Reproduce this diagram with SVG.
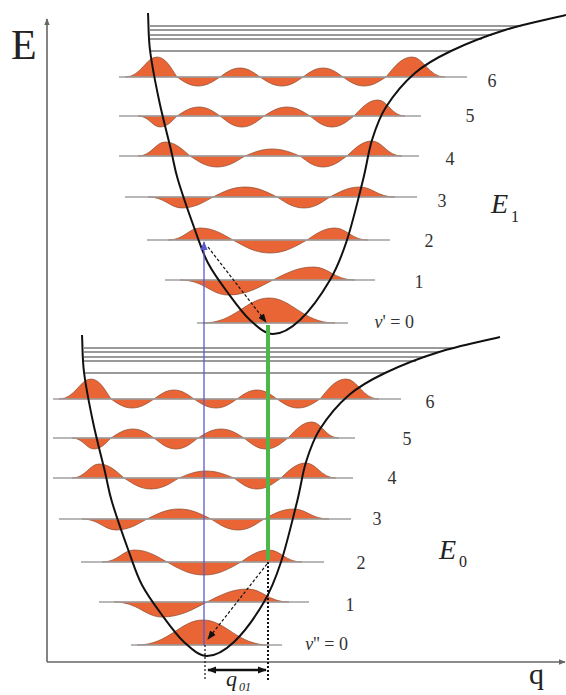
<svg xmlns="http://www.w3.org/2000/svg" width="566" height="695" viewBox="0 0 566 695">
<style>
.wave{fill:#E96535;stroke:#8a4a30;stroke-width:0.7;stroke-linejoin:round}
.base{stroke:#a0a0a0;stroke-width:1.3;fill:none}
.diss{stroke:#9a9a9a;stroke-width:1.8;fill:none}
.pot{stroke:#111;stroke-width:2;fill:none}
.axis{stroke:#666;stroke-width:1.6;fill:none}
.lbl{font-family:"Liberation Serif","Times New Roman",serif;font-size:18px;fill:#333;text-anchor:middle}
.big{font-family:"Liberation Serif","Times New Roman",serif;fill:#222}
</style>
<defs>
<marker id="ah" viewBox="0 0 10 10" refX="9" refY="5" markerWidth="9" markerHeight="9" markerUnits="userSpaceOnUse" orient="auto-start-reverse"><path d="M0,1 L10,5 L0,9 Z" fill="#111"/></marker>
<marker id="ahb" viewBox="0 0 10 10" refX="9" refY="5" markerWidth="9" markerHeight="9" markerUnits="userSpaceOnUse" orient="auto"><path d="M0,1 L10,5 L0,9 Z" fill="#5a5ad0"/></marker>
<marker id="aha" viewBox="0 0 10 10" refX="9" refY="5" markerWidth="7" markerHeight="7" markerUnits="userSpaceOnUse" orient="auto"><path d="M0,1 L10,5 L0,9 Z" fill="#666"/></marker>
<g id="well">
<g class="diss">
<line x1="150" y1="26" x2="521" y2="26"/>
<line x1="150" y1="30" x2="505" y2="30"/>
<line x1="150" y1="35" x2="492" y2="35"/>
<line x1="150" y1="39" x2="482" y2="39"/>
<line x1="150" y1="51" x2="451" y2="51"/>
</g>
<path class="wave" d="M125,77 C141,77 145.8,57 157,57 C165,57 170.4,66.6 177,77 C183.9,81.7 189.6,86 198,86 C206.8,86 212.7,81.7 220,77 C226.6,72.3 232,68 240,68 C248,68 253.4,72.3 260,77 C267.3,81.7 273.2,86 282,86 C290.4,86 296.1,81.7 303,77 C309.6,72.3 315,68 323,68 C331,68 336.4,72.3 343,77 C349.9,81.7 355.6,86 364,86 C372.8,86 378.7,81.7 386,77 C394.6,66.6 401.6,57 412,57 C423.6,57 428.5,77 445,77 Z"/>
<path class="wave" d="M138,116 C149,116 152.3,127 160,127 C166.8,127 171.4,121.7 177,116 C184.3,111.3 190.2,107 199,107 C207.4,107 213.1,111.3 220,116 C227.3,121.7 233.2,127 242,127 C250.8,127 256.7,121.7 264,116 C271.6,111.3 277.8,107 287,107 C296.2,107 302.4,111.3 310,116 C317.3,121.7 323.2,127 332,127 C340.8,127 346.7,121.7 354,116 C361.9,107.7 368.4,100 378,100 C387.5,100 391.5,116 405,116 Z"/>
<path class="wave" d="M138,156 C151.5,156 155.6,142 165,142 C175,142 181.8,148.7 190,156 C198.9,161.7 206.2,167 217,167 C228.2,167 235.8,161.7 245,156 C253.9,152.4 261.2,149 272,149 C283.2,149 290.8,152.4 300,156 C307.6,161.7 313.8,167 323,167 C332.6,167 339.1,161.7 347,156 C355.3,148.2 362,141 372,141 C382.5,141 387,156 402,156 Z"/>
<path class="wave" d="M148,197 C165,197 170.1,208 182,208 C194.4,208 202.8,202.7 213,197 C223.6,191.8 232.2,187 245,187 C257.8,187 266.4,191.8 277,197 C285.9,202.7 293.2,208 304,208 C314.4,208 321.4,202.7 330,197 C339.9,191.8 348,187 360,187 C372.3,187 377.5,197 395,197 Z"/>
<path class="wave" d="M168,240 C184,240 188.8,228 200,228 C213.2,228 222.1,233.8 233,240 C245.2,246.8 255.2,253 270,253 C284.8,253 294.8,246.8 307,240 C316.2,233.8 323.8,228 335,228 C346.6,228 351.5,240 368,240 Z"/>
<path class="wave" d="M180,280 C204,280 211.2,295 228,295 C246,295 258.2,287.8 273,280 C286.5,273.2 297.6,267 314,267 C328.4,267 334.5,280 355,280 Z"/>
<path class="wave" d="M203,323 C235,323 246,298 269,298 C292,298 303,323 335,323 Z"/>
<g class="base">
<line x1="119" y1="77" x2="467" y2="77"/>
<line x1="119" y1="116" x2="421" y2="116"/>
<line x1="119" y1="156" x2="419" y2="156"/>
<line x1="125" y1="197" x2="417" y2="197"/>
<line x1="147" y1="240" x2="390" y2="240"/>
<line x1="165" y1="280" x2="375" y2="280"/>
<line x1="197" y1="323" x2="348" y2="323"/>
</g>
<path class="pot" d="M148,13 C148.7,25.3 148.2,35.5 150,50 C151.8,64.5 155.5,83.3 159,100 C162.5,116.7 167.8,136.7 171,150 C174.2,163.3 174,166.7 178,180 C182,193.3 190,216.2 195,230 C200,243.8 202.5,252.5 208,263 C213.5,273.5 221,283.5 228,293 C235,302.5 242.5,313.2 250,320 C257.5,326.8 264.7,334 273,334 C281.3,334 290.5,329 300,320 C309.5,311 322.2,293.3 330,280 C337.8,266.7 341.5,256.7 347,240 C352.5,223.3 358.8,196.7 363,180 C367.2,163.3 368.2,152.2 372,140 C375.8,127.8 378.8,118.2 386,107 C393.2,95.8 404.2,82.3 415,73 C425.8,63.7 436,58.2 451,51 C466,43.8 485.8,36 505,30 C524.2,24 545.7,20 566,15"/>
</g>
</defs>
<g id="axes">
<line class="axis" x1="47" y1="662" x2="47" y2="19" marker-end="url(#aha)"/>
<line class="axis" x1="47" y1="662" x2="565" y2="662" marker-end="url(#aha)"/>
<text class="big" x="11" y="59" font-size="42">E</text>
<text class="big" x="529" y="684" font-size="30">q</text>
</g>
<g id="state-E1">
<use href="#well"/>
<text class="lbl" x="492" y="87">6</text>
<text class="lbl" x="470" y="122">5</text>
<text class="lbl" x="450" y="165">4</text>
<text class="lbl" x="442" y="207">3</text>
<text class="lbl" x="429" y="247">2</text>
<text class="lbl" x="419" y="288">1</text>
<text class="lbl" x="414" y="328" style="text-anchor:end"><tspan font-style="italic">v</tspan>' = 0</text>
<text class="big" x="491" y="213" font-size="28" font-style="italic">E</text>
<text class="big" x="511" y="222" font-size="16">1</text>
</g>
<g id="state-E0">
<use href="#well" transform="translate(-66,322)"/>
<text class="lbl" x="430" y="408">6</text>
<text class="lbl" x="407" y="445">5</text>
<text class="lbl" x="392" y="484">4</text>
<text class="lbl" x="377" y="525">3</text>
<text class="lbl" x="361" y="569">2</text>
<text class="lbl" x="350" y="611">1</text>
<text class="lbl" x="348" y="650" style="text-anchor:end"><tspan font-style="italic">v</tspan>'' = 0</text>
<text class="big" x="439" y="559" font-size="28" font-style="italic">E</text>
<text class="big" x="459" y="567" font-size="16">0</text>
</g>
<g id="connectors">
<line x1="204" y1="645" x2="204" y2="242" stroke="#5a5ad0" stroke-width="1.3" marker-end="url(#ahb)"/>
<line x1="268" y1="325" x2="268" y2="560" stroke="#4db848" stroke-width="4"/>
<line x1="208" y1="247" x2="266" y2="322" stroke="#111" stroke-width="1.2" stroke-dasharray="3,2" marker-end="url(#ah)"/>
<line x1="267" y1="564" x2="208" y2="639" stroke="#111" stroke-width="1.2" stroke-dasharray="3,2" marker-end="url(#ah)"/>
<line x1="205" y1="645" x2="205" y2="680" stroke="#111" stroke-width="1.2" stroke-dasharray="2,2"/>
<line x1="268" y1="562" x2="268" y2="680" stroke="#111" stroke-width="2" stroke-dasharray="2,2"/>
<line x1="208" y1="670" x2="266" y2="670" stroke="#111" stroke-width="2.5" marker-start="url(#ah)" marker-end="url(#ah)"/>
</g>
<g id="q01-label">
<text class="big" x="226" y="686" font-size="22" font-style="italic">q</text>
<text class="big" x="239" y="691" font-size="12" font-style="italic">01</text>
</g>
</svg>
